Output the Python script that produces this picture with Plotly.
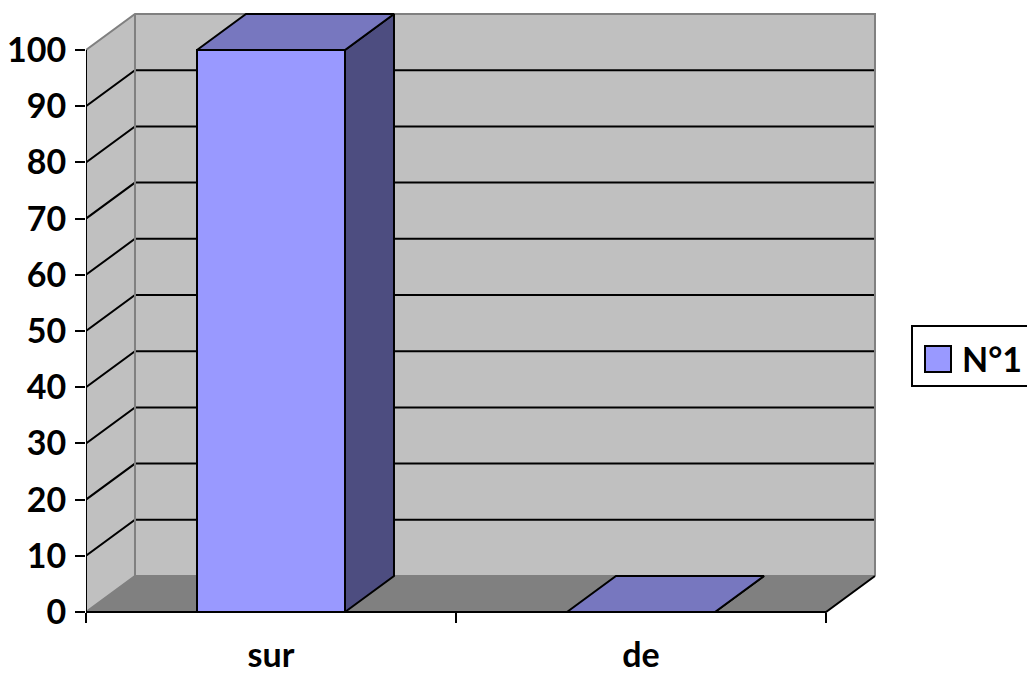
import plotly.graph_objects as go

# ---- data ----
CATEGORIES = ["sur", "de"]
VALUES = [100, 0]
SERIES_NAME = "N°1"
Y_TICKS = [0, 10, 20, 30, 40, 50, 60, 70, 80, 90, 100]
Y_TICK_LABELS = [str(v) for v in Y_TICKS]

# ---- geometry of the pseudo-3D frame ----
W, H = 1027, 675
ML, MR, MT, MB = 86, 127, 5, 50
X_RANGE = [-0.5, 1.7]
Y_RANGE = [-2.313, 108.007]
DX = 0.1324     # depth offset along the category axis
DZ = 6.41       # depth offset along the value axis
HALF = 0.2      # half width of a column
X0, X1 = -0.5, len(CATEGORIES) - 0.5
TOP = max(Y_TICKS)

WALL = "#C0C0C0"
FLOOR = "#808080"
EDGE = "#808080"
FRONT = "#9999FF"
TOPC = "#7777BF"
SIDE = "#4D4D80"
FONT = "Lato"

fig = go.Figure()


def face(xs, ys, fill, line_color="black", width=2):
    fig.add_trace(go.Scatter(
        x=xs + xs[:1], y=ys + ys[:1], mode="lines", fill="toself",
        fillcolor=fill, line=dict(color=line_color, width=width),
        hoverinfo="skip", showlegend=False))


def lines(xs, ys, color, width=2):
    fig.add_trace(go.Scatter(
        x=xs, y=ys, mode="lines", line=dict(color=color, width=width),
        hoverinfo="skip", showlegend=False))


# walls and floor
face([X0, X0, X0 + DX, X0 + DX], [0, TOP, TOP + DZ, DZ], WALL, WALL, 0.1)
face([X0 + DX, X1 + DX, X1 + DX, X0 + DX], [DZ, DZ, TOP + DZ, TOP + DZ], WALL, WALL, 0.1)
face([X0, X1, X1 + DX, X0 + DX], [0, 0, DZ, DZ], FLOOR, FLOOR, 0.1)

# gridlines: along the side wall, then across the back wall
gx, gy = [], []
for v in Y_TICKS[1:-1]:
    gx += [X0, X0 + DX, X1 + DX, None]
    gy += [v, v + DZ, v + DZ, None]
lines(gx, gy, "black", 2)

# wall edges
lines([X0, X0 + DX, X1 + DX, X1 + DX], [TOP, TOP + DZ, TOP + DZ, DZ], EDGE, 2)
lines([X0 + DX, X0 + DX, None, X0, X0 + DX, X1 + DX],
      [TOP + DZ, DZ, None, 0, DZ, DZ], EDGE, 2)

# floor front edge, right edge and front value axis
lines([X0, X1, X1 + DX], [0, 0, DZ], "black", 2)
lines([X0, X0], [0, TOP], "black", 2)

# columns
for i, v in enumerate(VALUES):
    l, r = i - HALF, i + HALF
    face([r, r + DX, r + DX, r], [0, DZ, v + DZ, v], SIDE)
    face([l, r, r + DX, l + DX], [v, v, v + DZ, v + DZ], TOPC)
    if v > 0:
        face([l, r, r, l], [0, 0, v, v], FRONT)

# legend box
px = lambda p: (p - ML) / (W - ML - MR)
py = lambda p: (H - MB - p) / (H - MT - MB)
fig.add_shape(type="rect", xref="paper", yref="paper",
              x0=px(912), x1=px(1040), y0=py(386), y1=py(326),
              line=dict(color="black", width=2), fillcolor="white")
fig.add_shape(type="rect", xref="paper", yref="paper",
              x0=px(925), x1=px(951), y0=py(372), y1=py(346),
              line=dict(color="black", width=2), fillcolor=FRONT)
fig.add_annotation(xref="paper", yref="paper", x=px(960), y=py(358),
                   xanchor="left", yanchor="middle", showarrow=False,
                   text=SERIES_NAME,
                   font=dict(family=FONT, size=34, color="black", weight="bold"))

fig.update_layout(
    width=W, height=H,
    margin=dict(l=ML, r=MR, t=MT, b=MB, autoexpand=False),
    paper_bgcolor="white", plot_bgcolor="white",
    showlegend=False,
    xaxis=dict(
        range=X_RANGE, showgrid=False, zeroline=False, showline=False,
        tickmode="array", tickvals=list(range(len(CATEGORIES))),
        ticktext=CATEGORIES, ticks="",
        anchor="free", position=(Y_RANGE[0] * -1) / (Y_RANGE[1] - Y_RANGE[0]),
        ticklabelstandoff=20,
        tickfont=dict(family=FONT, size=34, color="black", weight="bold"),
        minor=dict(tickmode="array", tickvals=[X0 + k for k in range(len(CATEGORIES) + 1)],
                   ticks="outside", ticklen=10, tickwidth=2, tickcolor="black",
                   showgrid=False),
        fixedrange=True,
    ),
    yaxis=dict(
        range=Y_RANGE, showgrid=False, zeroline=False, showline=False,
        tickmode="array", tickvals=Y_TICKS, ticktext=Y_TICK_LABELS,
        ticks="outside", ticklen=10, tickwidth=2, tickcolor="black",
        ticklabelstandoff=2,
        tickfont=dict(family=FONT, size=34, color="black", weight="bold"),
        fixedrange=True,
    ),
)

fig.write_html("out.html")
